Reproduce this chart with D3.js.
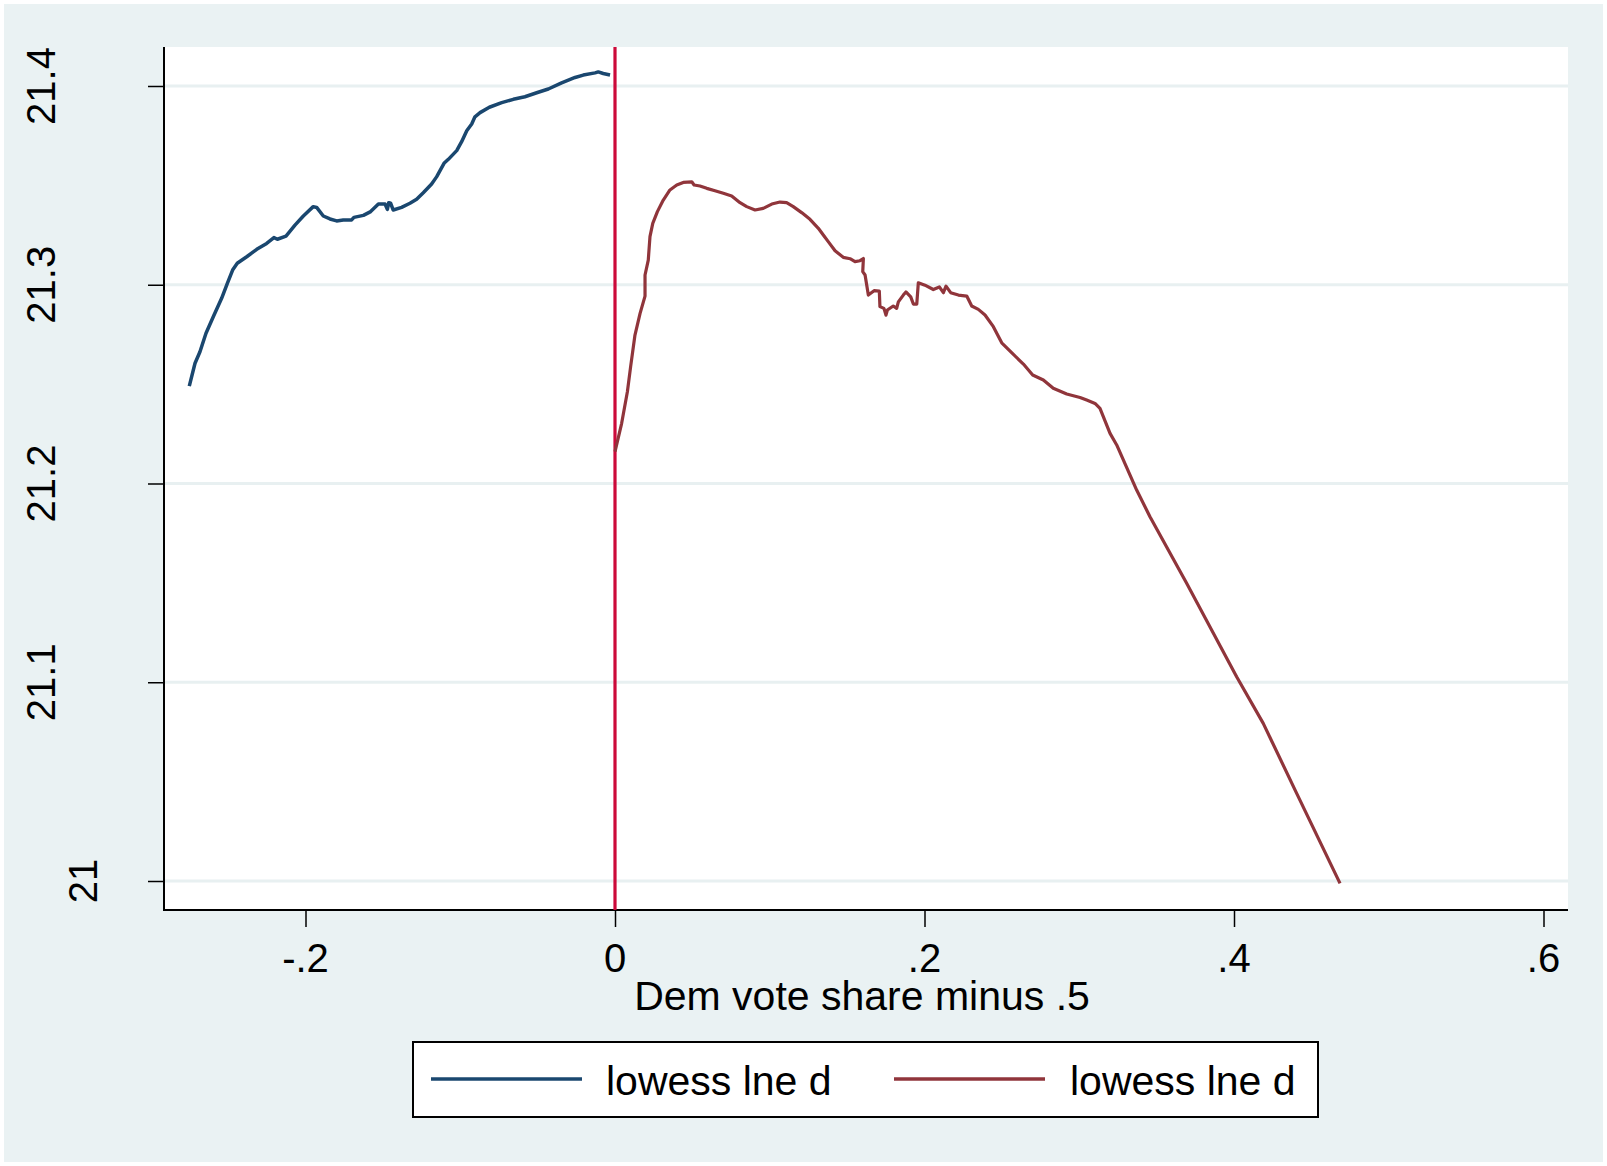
<!DOCTYPE html>
<html>
<head>
<meta charset="utf-8">
<script src="https://cdn.jsdelivr.net/npm/d3@7/dist/d3.min.js"></script>
<style>
  html, body { margin: 0; padding: 0; background: #ffffff; }
  svg { display: block; }
  text { font-family: "Liberation Sans", Arial, Helvetica, sans-serif; fill: #000; }
</style>
</head>
<body>
<svg id="chart" width="1607" height="1166"></svg>
<script>
// Lowess fit of lne d, left of the cutoff (Dem vote share minus .5 < 0)
const leftX = [-0.2751, -0.2714, -0.2682, -0.2643, -0.2596, -0.2542, -0.2505, -0.2471, -0.2441, -0.2380,
  -0.2315, -0.2251, -0.2204, -0.2182, -0.2126, -0.2068, -0.2014, -0.1950, -0.1928, -0.1885,
  -0.1842, -0.1799, -0.1756, -0.1702, -0.1687, -0.1626, -0.1579, -0.1529, -0.1486, -0.1471,
  -0.1462, -0.1450, -0.1433, -0.1379, -0.1325, -0.1282, -0.1239, -0.1185, -0.1152, -0.1105,
  -0.1077, -0.1023, -0.0991, -0.0958, -0.0926, -0.0905, -0.0872, -0.0812, -0.0732, -0.0657,
  -0.0582, -0.0506, -0.0431, -0.0345, -0.0258, -0.0205, -0.0129, -0.0108, -0.0076, -0.0032];
const leftY = [21.2490, 21.2605, 21.2663, 21.2756, 21.2839, 21.2932, 21.3007, 21.3074, 21.3108, 21.3141,
  21.3178, 21.3208, 21.3237, 21.3229, 21.3245, 21.3300, 21.3346, 21.3393, 21.3389, 21.3346,
  21.3331, 21.3321, 21.3326, 21.3326, 21.3339, 21.3349, 21.3368, 21.3406, 21.3406, 21.3379,
  21.3413, 21.3410, 21.3376, 21.3389, 21.3410, 21.3430, 21.3463, 21.3507, 21.3544, 21.3611,
  21.3631, 21.3675, 21.3720, 21.3775, 21.3809, 21.3845, 21.3866, 21.3893, 21.3916, 21.3933,
  21.3946, 21.3966, 21.3985, 21.4016, 21.4043, 21.4055, 21.4066, 21.4071, 21.4063, 21.4055];

// Lowess fit of lne d, right of the cutoff
const rightX = [0.0000, 0.0043, 0.0080, 0.0101, 0.0129, 0.0162, 0.0194, 0.0194, 0.0215, 0.0226,
  0.0244, 0.0274, 0.0312, 0.0355, 0.0399, 0.0441, 0.0496, 0.0511, 0.0549, 0.0593,
  0.0646, 0.0700, 0.0754, 0.0808, 0.0851, 0.0905, 0.0958, 0.1013, 0.1066, 0.1109,
  0.1152, 0.1206, 0.1260, 0.1314, 0.1346, 0.1378, 0.1422, 0.1475, 0.1519, 0.1551,
  0.1583, 0.1605, 0.1601, 0.1616, 0.1637, 0.1674, 0.1708, 0.1712, 0.1738, 0.1751,
  0.1760, 0.1798, 0.1820, 0.1831, 0.1863, 0.1880, 0.1911, 0.1928, 0.1950, 0.1960,
  0.2003, 0.2057, 0.2096, 0.2122, 0.2139, 0.2169, 0.2219, 0.2273, 0.2305, 0.2348,
  0.2391, 0.2445, 0.2499, 0.2563, 0.2639, 0.2699, 0.2768, 0.2832, 0.2919, 0.3005,
  0.3048, 0.3102, 0.3134, 0.3199, 0.3242, 0.3371, 0.3457, 0.3694, 0.4017, 0.4189,
  0.4405, 0.4685];
const rightY = [21.2160, 21.2303, 21.2462, 21.2588, 21.2747, 21.2856, 21.2943, 21.3049, 21.3124, 21.3242,
  21.3309, 21.3368, 21.3426, 21.3477, 21.3502, 21.3515, 21.3518, 21.3502, 21.3497, 21.3485,
  21.3473, 21.3460, 21.3447, 21.3413, 21.3393, 21.3376, 21.3384, 21.3406, 21.3416, 21.3413,
  21.3393, 21.3363, 21.3329, 21.3284, 21.3250, 21.3217, 21.3171, 21.3138, 21.3131, 21.3116,
  21.3121, 21.3132, 21.3066, 21.3049, 21.2948, 21.2970, 21.2968, 21.2890, 21.2881, 21.2847,
  21.2873, 21.2893, 21.2881, 21.2914, 21.2948, 21.2964, 21.2939, 21.2903, 21.2903, 21.3010,
  21.2998, 21.2976, 21.2989, 21.2960, 21.2993, 21.2960, 21.2948, 21.2943, 21.2893, 21.2876,
  21.2848, 21.2789, 21.2708, 21.2658, 21.2601, 21.2546, 21.2521, 21.2479, 21.2450, 21.2433,
  21.2420, 21.2403, 21.2378, 21.2252, 21.2194, 21.1967, 21.1833, 21.1498, 21.1028, 21.0793,
  21.0441, 20.9988];

const cutoff = 0;
const xTicks = [-0.2, 0, 0.2, 0.4, 0.6];
const xTickLabels = ["-.2", "0", ".2", ".4", ".6"];
const yTicks = [21, 21.1, 21.2, 21.3, 21.4];
const yTickLabels = ["21", "21.1", "21.2", "21.3", "21.4"];
const xTitle = "Dem vote share minus .5";
const seriesNames = ["lowess lne d", "lowess lne d"];
const seriesColors = ["#1a476f", "#90353b"];

const svg = d3.select("#chart");
const W = 1607, H = 1166;
const plot = { left: 164, right: 1568, top: 47, bottom: 910 };
const fontSize = 40;

// graph region
svg.append("rect").attr("x", 0).attr("y", 0).attr("width", W).attr("height", H).attr("fill", "#ffffff");
svg.append("rect").attr("x", 4).attr("y", 4).attr("width", W - 8).attr("height", H - 8).attr("fill", "#eaf2f3");
// plot region
svg.append("rect").attr("x", plot.left).attr("y", plot.top)
  .attr("width", plot.right - plot.left).attr("height", plot.bottom - plot.top).attr("fill", "#ffffff");

const x = d3.scaleLinear().domain([-0.29144, 0.61583]).range([plot.left, plot.right]);
const y = d3.scaleLinear().domain([20.98541, 21.41962]).range([plot.bottom, plot.top]);

// horizontal grid lines
svg.append("g").selectAll("line").data(yTicks).join("line")
  .attr("x1", plot.left).attr("x2", plot.right)
  .attr("y1", d => y(d)).attr("y2", d => y(d))
  .attr("stroke", "#e8f0f1").attr("stroke-width", 3);

// y axis
const yAxis = d3.axisLeft(y).tickValues(yTicks).tickSize(16).tickFormat("");
const gy = svg.append("g").attr("transform", `translate(${plot.left},0)`).call(yAxis);
gy.select(".domain").attr("d", `M0,${plot.top}V${plot.bottom + 1}`).attr("stroke", "#000").attr("stroke-width", 2);
gy.selectAll(".tick line").attr("stroke", "#000").attr("stroke-width", 1.5);

// vertical y tick labels
const yLab = svg.append("g");
const labs = yLab.selectAll("text").data(yTicks).join("text")
  .attr("text-anchor", "middle")
  .attr("font-size", fontSize)
  .text((d, i) => yTickLabels[i]);
const widths = [];
labs.each(function () { widths.push(this.getComputedTextLength()); });
const maxW = d3.max(widths);
labs.attr("transform", (d, i) => `translate(${55 + (maxW - widths[i]) * 1.25},${y(d)}) rotate(-90)`);

// x axis
const xAxis = d3.axisBottom(x).tickValues(xTicks).tickSize(17).tickFormat("");
const gx = svg.append("g").attr("transform", `translate(0,${plot.bottom})`).call(xAxis);
gx.select(".domain").attr("d", `M${plot.left - 1},0H${plot.right}`).attr("stroke", "#000").attr("stroke-width", 2);
gx.selectAll(".tick line").attr("stroke", "#000").attr("stroke-width", 1.5);
svg.append("g").selectAll("text").data(xTicks).join("text")
  .attr("x", d => x(d)).attr("y", 972)
  .attr("text-anchor", "middle").attr("font-size", fontSize)
  .text((d, i) => xTickLabels[i]);

svg.append("text")
  .attr("x", (plot.left + plot.right) / 2 - 4).attr("y", 1010)
  .attr("text-anchor", "middle").attr("font-size", 41)
  .text(xTitle);

// cutoff line
svg.append("line")
  .attr("x1", x(cutoff)).attr("x2", x(cutoff))
  .attr("y1", plot.top).attr("y2", plot.bottom)
  .attr("stroke", "#cc0a3a").attr("stroke-width", 3.2);

// lowess curves
const line = d3.line().x(d => x(d[0])).y(d => y(d[1]));
const series = [
  d3.zip(leftX, leftY),
  d3.zip(rightX, rightY)
];
svg.append("g").selectAll("path").data(series).join("path")
  .attr("d", line)
  .attr("fill", "none")
  .attr("stroke", (d, i) => seriesColors[i])
  .attr("stroke-width", (d, i) => i === 0 ? 3.5 : 3.2)
  .attr("stroke-linejoin", "round");

// legend
const lg = svg.append("g");
lg.append("rect").attr("x", 413).attr("y", 1042).attr("width", 905).attr("height", 75)
  .attr("fill", "#ffffff").attr("stroke", "#000").attr("stroke-width", 2);
const legendItems = [
  { x0: 431, x1: 582, tx: 606 },
  { x0: 894, x1: 1045, tx: 1070 }
];
legendItems.forEach((it, i) => {
  lg.append("line").attr("x1", it.x0).attr("x2", it.x1).attr("y1", 1079).attr("y2", 1079)
    .attr("stroke", seriesColors[i]).attr("stroke-width", 3.5);
  lg.append("text").attr("x", it.tx).attr("y", 1095).attr("font-size", 41).text(seriesNames[i]);
});
</script>
</body>
</html>
